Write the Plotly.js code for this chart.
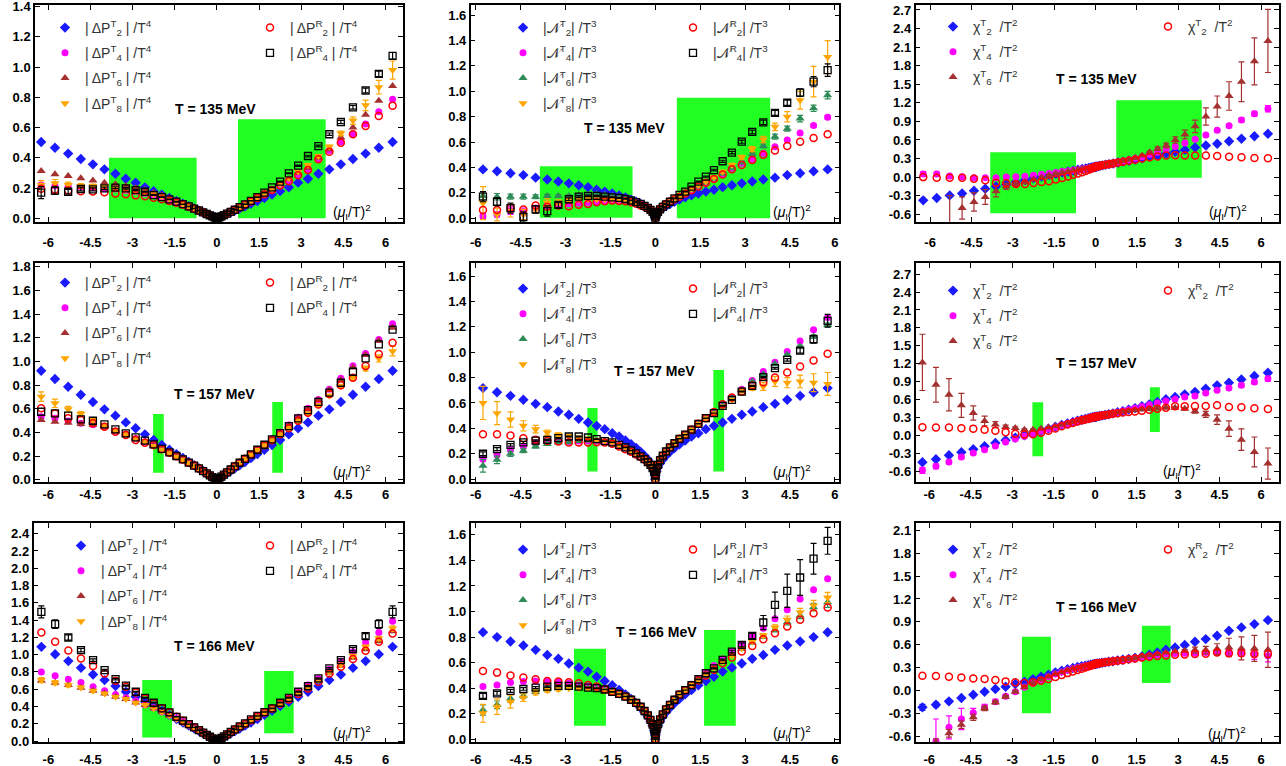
<!DOCTYPE html>
<html><head><meta charset="utf-8">
<script src="https://cdn.plot.ly/plotly-3.0.1.min.js"></script>
<style>html,body{margin:0;padding:0;background:#fff}#chart{width:1286px;height:766px}</style>
</head><body><div id="chart"></div>
<script>
// ---------- x values: (mu_I/T)^2, negative side = imaginary chemical potential ----------
const X25 = [-6.25,-5.76,-5.29,-4.84,-4.41,-4.0,-3.61,-3.24,-2.89,-2.56,-2.25,-1.96,-1.69,-1.44,-1.21,-1.0,-0.81,-0.64,-0.49,-0.36,-0.25,-0.16,-0.09,-0.04,-0.01,0,0.01,0.04,0.09,0.16,0.25,0.36,0.49,0.64,0.81,1.0,1.21,1.44,1.69,1.96,2.25,2.56,2.89,3.24,3.61,4.0,4.41,4.84,5.29,5.76,6.25];
const X24 = [-5.76,-5.29,-4.84,-4.41,-4.0,-3.61,-3.24,-2.89,-2.56,-2.25,-1.96,-1.69,-1.44,-1.21,-1.0,-0.81,-0.64,-0.49,-0.36,-0.25,-0.16,-0.09,-0.04,-0.01,0,0.01,0.04,0.09,0.16,0.25,0.36,0.49,0.64,0.81,1.0,1.21,1.44,1.69,1.96,2.25,2.56,2.89,3.24,3.61,4.0,4.41,4.84,5.29,5.76];

// ---------- T = 135 MeV : |dP|/T^4 ----------
const t135_dP2T = [0.505,0.467,0.428,0.392,0.357,0.324,0.295,0.262,0.236,0.205,0.18,0.157,0.135,0.115,0.097,0.08,0.065,0.051,0.039,0.029,0.02,0.013,0.007,0.003,0.001,0,0.001,0.003,0.007,0.013,0.02,0.029,0.039,0.051,0.065,0.08,0.097,0.115,0.135,0.157,0.18,0.205,0.236,0.262,0.295,0.324,0.357,0.392,0.428,0.467,0.505];
const t135_dP4T = [0.22,0.216,0.214,0.21,0.205,0.196,0.194,0.185,0.176,0.165,0.152,0.138,0.12,0.105,0.09,0.077,0.064,0.051,0.04,0.029,0.02,0.013,0.007,0.003,0.001,0,0.001,0.003,0.007,0.013,0.021,0.031,0.043,0.057,0.073,0.092,0.113,0.137,0.16,0.188,0.22,0.25,0.29,0.324,0.39,0.448,0.507,0.558,0.624,0.705,0.787];
const t135_dP6T = [0.313,0.291,0.28,0.265,0.251,0.236,0.225,0.214,0.2,0.187,0.17,0.152,0.133,0.115,0.098,0.08,0.066,0.052,0.04,0.029,0.02,0.013,0.007,0.003,0.001,0,0.001,0.003,0.007,0.013,0.021,0.031,0.043,0.057,0.073,0.092,0.113,0.138,0.162,0.19,0.223,0.26,0.3,0.335,0.4,0.456,0.534,0.6,0.684,0.778,0.875];
const t135_dP8T = [0.22,0.232,0.22,0.214,0.214,0.21,0.198,0.187,0.176,0.17,0.159,0.145,0.128,0.11,0.094,0.079,0.065,0.052,0.04,0.029,0.02,0.013,0.007,0.003,0.001,0,0.001,0.003,0.007,0.013,0.021,0.031,0.043,0.057,0.073,0.092,0.114,0.139,0.163,0.192,0.225,0.265,0.31,0.353,0.412,0.474,0.562,0.646,0.747,0.867,0.98];
const t135_dP8T_err = [0.03,0.025,0.02,0.015,0.012,0.01,0.008,0.006,0.005,0.004,0.003,0.003,0.002,0.002,0.002,0.001,0.001,0.001,0.001,0.001,0.001,0,0,0,0,0,0,0,0,0,0.001,0.001,0.001,0.001,0.001,0.001,0.002,0.002,0.002,0.003,0.003,0.004,0.005,0.006,0.008,0.01,0.015,0.025,0.035,0.045,0.06];
const t135_dP2R = [0.195,0.19,0.185,0.18,0.178,0.172,0.165,0.159,0.152,0.146,0.137,0.126,0.115,0.103,0.09,0.077,0.064,0.051,0.04,0.029,0.02,0.013,0.007,0.003,0.001,0,0.001,0.003,0.007,0.013,0.021,0.031,0.043,0.057,0.073,0.092,0.112,0.135,0.16,0.187,0.218,0.245,0.285,0.32,0.39,0.441,0.5,0.556,0.611,0.677,0.745];
const t135_dP4R = [0.17,0.183,0.176,0.194,0.192,0.198,0.203,0.198,0.187,0.176,0.154,0.14,0.125,0.11,0.094,0.079,0.065,0.052,0.04,0.029,0.02,0.013,0.007,0.003,0.001,0,0.001,0.003,0.007,0.013,0.021,0.031,0.043,0.057,0.074,0.093,0.116,0.14,0.17,0.205,0.243,0.298,0.348,0.412,0.478,0.556,0.637,0.734,0.845,0.955,1.074];
const t135_dP4R_err = [0.04,0.025,0.015,0.012,0.01,0.008,0.006,0.005,0.004,0.003,0.003,0.002,0.002,0.002,0.001,0.001,0.001,0.001,0.001,0.001,0,0,0,0,0,0,0,0,0,0,0,0.001,0.001,0.001,0.001,0.001,0.001,0.002,0.002,0.002,0.003,0.003,0.004,0.005,0.006,0.008,0.01,0.012,0.015,0.018,0.022];

// ---------- T = 135 MeV : |N|/T^3 ----------
const t135_N2T = [0.385,0.37,0.355,0.34,0.32,0.305,0.29,0.275,0.26,0.245,0.225,0.21,0.195,0.18,0.165,0.147,0.13,0.113,0.097,0.08,0.064,0.048,0.032,0.016,0,0.016,0.032,0.048,0.064,0.08,0.097,0.113,0.13,0.147,0.165,0.18,0.195,0.21,0.225,0.245,0.26,0.275,0.29,0.305,0.32,0.34,0.355,0.37,0.385];
const t135_N4T = [0.018,0.03,0.06,0.05,0.08,0.1,0.11,0.115,0.12,0.125,0.13,0.135,0.14,0.14,0.14,0.135,0.125,0.112,0.097,0.082,0.066,0.05,0.034,0.017,0,0.018,0.037,0.056,0.075,0.094,0.113,0.132,0.15,0.17,0.195,0.22,0.25,0.28,0.31,0.346,0.394,0.433,0.465,0.512,0.564,0.617,0.672,0.73,0.795];
const t135_N4T_err = [0.02,0.02,0.03,0.03,0.02,0.02,0.015,0.01,0.008,0.006,0.005,0.004,0.003,0.003,0.002,0.002,0.002,0.001,0.001,0.001,0.001,0.001,0.001,0.001,0,0.001,0.001,0.001,0.001,0.001,0.001,0.001,0.001,0.001,0.001,0.001,0.001,0.002,0.002,0.003,0.003,0.004,0.005,0.006,0.007,0.008,0.01,0.012,0.015];
const t135_N6T = [0.176,0.17,0.17,0.17,0.17,0.176,0.176,0.176,0.184,0.184,0.19,0.185,0.175,0.165,0.155,0.143,0.13,0.115,0.1,0.083,0.067,0.05,0.034,0.017,0,0.018,0.037,0.056,0.075,0.094,0.113,0.132,0.152,0.172,0.196,0.222,0.25,0.28,0.31,0.35,0.394,0.44,0.506,0.57,0.643,0.706,0.785,0.866,0.97];
const t135_N6T_err = [0.03,0.025,0.02,0.02,0.015,0.012,0.01,0.008,0.006,0.005,0.004,0.003,0.003,0.002,0.002,0.002,0.001,0.001,0.001,0.001,0.001,0.001,0.001,0.001,0,0.001,0.001,0.001,0.001,0.001,0.001,0.001,0.002,0.002,0.002,0.003,0.003,0.004,0.005,0.006,0.008,0.01,0.012,0.015,0.02,0.02,0.025,0.025,0.03];
const t135_N8T = [0.12,0.03,0.06,0.03,0.07,0.125,0.125,0.145,0.15,0.15,0.15,0.15,0.15,0.145,0.14,0.132,0.122,0.11,0.096,0.081,0.066,0.05,0.034,0.017,0,0.018,0.037,0.056,0.075,0.095,0.115,0.135,0.155,0.176,0.2,0.23,0.26,0.29,0.323,0.367,0.42,0.48,0.545,0.62,0.72,0.8,0.93,1.076,1.27];
const t135_N8T_err = [0.13,0.05,0.05,0.04,0.03,0.03,0.02,0.015,0.01,0.01,0.008,0.006,0.005,0.004,0.003,0.003,0.002,0.002,0.002,0.001,0.001,0.001,0.001,0.001,0,0.001,0.001,0.001,0.001,0.001,0.002,0.002,0.002,0.003,0.003,0.004,0.005,0.006,0.008,0.01,0.012,0.015,0.02,0.025,0.03,0.04,0.07,0.12,0.13];
const t135_N2R = [0.066,0.066,0.08,0.07,0.1,0.09,0.1,0.095,0.107,0.113,0.126,0.134,0.14,0.137,0.135,0.127,0.115,0.1,0.09,0.077,0.062,0.047,0.031,0.016,0,0.018,0.037,0.056,0.075,0.094,0.113,0.132,0.15,0.17,0.195,0.22,0.25,0.28,0.31,0.345,0.386,0.42,0.46,0.5,0.533,0.57,0.603,0.632,0.661];
const t135_N4R = [0.17,0.13,0.08,0.01,0.07,0.057,0.105,0.15,0.17,0.176,0.176,0.17,0.165,0.16,0.152,0.14,0.127,0.113,0.098,0.082,0.066,0.05,0.034,0.017,0,0.016,0.033,0.05,0.07,0.09,0.11,0.13,0.157,0.184,0.21,0.25,0.289,0.328,0.38,0.449,0.517,0.603,0.68,0.755,0.83,0.91,0.99,1.076,1.167];
const t135_N4R_err = [0.04,0.03,0.04,0.04,0.03,0.04,0.02,0.01,0.008,0.006,0.005,0.004,0.003,0.003,0.002,0.002,0.002,0.001,0.001,0.001,0.001,0.001,0.001,0.001,0,0.001,0.001,0.001,0.001,0.001,0.001,0.002,0.002,0.002,0.003,0.003,0.004,0.005,0.006,0.008,0.01,0.012,0.015,0.018,0.02,0.02,0.03,0.04,0.05];

// ---------- T = 135 MeV : chi/T^2 ----------
const t135_chi2T = [-0.375,-0.338,-0.295,-0.263,-0.22,-0.188,-0.15,-0.118,-0.08,-0.048,-0.016,0.01,0.035,0.055,0.075,0.09,0.105,0.12,0.13,0.14,0.15,0.155,0.16,0.163,0.165,0.166,0.167,0.17,0.176,0.182,0.19,0.2,0.21,0.22,0.235,0.25,0.265,0.285,0.305,0.33,0.35,0.38,0.41,0.44,0.48,0.51,0.54,0.58,0.62,0.66,0.7];
const t135_chi4T = [0.05,0.05,0.02,0.005,-0.01,-0.01,-0.01,0.0,0.005,0.015,0.03,0.045,0.06,0.075,0.09,0.1,0.11,0.12,0.13,0.14,0.15,0.155,0.16,0.163,0.165,0.166,0.167,0.17,0.176,0.183,0.192,0.203,0.215,0.228,0.243,0.26,0.28,0.305,0.33,0.365,0.402,0.445,0.493,0.552,0.611,0.681,0.756,0.831,0.922,1.024,1.105];
const t135_chi4T_err = [0.04,0.03,0.02,0.015,0.01,0.01,0.008,0.006,0.005,0.004,0.003,0.003,0.002,0.002,0.002,0.001,0.001,0.001,0.001,0.001,0.001,0.001,0.001,0.001,0.001,0.001,0.001,0.001,0.001,0.001,0.001,0.001,0.001,0.001,0.002,0.002,0.002,0.003,0.003,0.004,0.005,0.006,0.008,0.01,0.012,0.015,0.02,0.02,0.03,0.04,0.05];
const t135_chi6T = [-1.6,-1.3,-0.9,-0.5,-0.4,-0.32,-0.23,-0.15,-0.11,-0.08,-0.04,-0.005,0.03,0.055,0.075,0.09,0.105,0.12,0.13,0.14,0.15,0.155,0.16,0.163,0.165,0.166,0.167,0.17,0.176,0.183,0.192,0.203,0.215,0.225,0.24,0.26,0.28,0.31,0.35,0.4,0.46,0.51,0.6,0.69,0.82,0.98,1.14,1.31,1.54,1.87,2.2];
const t135_chi6T_err = [0.6,0.5,0.6,0.18,0.15,0.12,0.09,0.05,0.04,0.03,0.02,0.015,0.01,0.01,0.008,0.006,0.005,0.004,0.003,0.002,0.002,0.001,0.001,0.001,0.001,0.001,0.001,0.001,0.001,0.001,0.002,0.002,0.003,0.004,0.005,0.006,0.008,0.01,0.015,0.02,0.03,0.04,0.05,0.07,0.1,0.14,0.17,0.23,0.32,0.38,0.51];
const t135_chi2R = [0.0,-0.01,-0.01,-0.01,-0.025,-0.05,-0.09,-0.1,-0.11,-0.11,-0.095,-0.08,-0.065,-0.04,-0.015,0.01,0.04,0.06,0.08,0.1,0.12,0.135,0.15,0.16,0.165,0.166,0.167,0.17,0.176,0.182,0.19,0.2,0.21,0.22,0.235,0.25,0.265,0.28,0.3,0.32,0.335,0.35,0.355,0.35,0.35,0.35,0.34,0.33,0.32,0.31,0.305];

// ---------- T = 157 MeV : |dP|/T^4 ----------
const t157_dP2T = [0.922,0.852,0.787,0.72,0.658,0.596,0.543,0.486,0.436,0.385,0.337,0.295,0.255,0.218,0.185,0.152,0.124,0.098,0.076,0.055,0.038,0.024,0.013,0.006,0.0015,0,0.0015,0.006,0.013,0.024,0.038,0.055,0.076,0.098,0.124,0.152,0.185,0.218,0.255,0.295,0.337,0.385,0.436,0.486,0.543,0.596,0.658,0.72,0.787,0.852,0.922];
const t157_dP4T = [0.534,0.52,0.498,0.478,0.467,0.45,0.413,0.385,0.35,0.32,0.29,0.26,0.23,0.2,0.172,0.145,0.12,0.096,0.074,0.054,0.037,0.024,0.013,0.006,0.0015,0,0.002,0.007,0.016,0.028,0.044,0.064,0.088,0.115,0.145,0.18,0.215,0.255,0.3,0.343,0.402,0.464,0.529,0.605,0.68,0.765,0.858,0.965,1.069,1.187,1.32];
const t157_dP6T = [0.506,0.492,0.484,0.472,0.467,0.45,0.41,0.385,0.35,0.32,0.29,0.26,0.23,0.2,0.172,0.145,0.12,0.096,0.074,0.054,0.037,0.024,0.013,0.006,0.0015,0,0.002,0.007,0.016,0.028,0.044,0.064,0.088,0.115,0.145,0.178,0.215,0.255,0.297,0.342,0.4,0.46,0.525,0.6,0.675,0.76,0.844,0.95,1.055,1.175,1.285];
const t157_dP8T = [0.703,0.647,0.596,0.557,0.506,0.464,0.422,0.388,0.352,0.326,0.287,0.255,0.225,0.196,0.17,0.144,0.119,0.095,0.073,0.054,0.037,0.024,0.013,0.006,0.0015,0,0.002,0.007,0.016,0.028,0.044,0.064,0.088,0.114,0.144,0.176,0.212,0.252,0.293,0.335,0.385,0.44,0.5,0.562,0.633,0.711,0.793,0.863,0.942,1.026,1.088];
const t157_dP8T_err = [0.04,0.035,0.025,0.02,0.015,0.01,0.01,0.008,0.006,0.005,0.004,0.003,0.003,0.002,0.002,0.002,0.001,0.001,0.001,0.001,0.001,0,0,0,0,0,0,0,0,0,0.001,0.001,0.001,0.001,0.001,0.002,0.002,0.002,0.003,0.003,0.004,0.005,0.006,0.008,0.01,0.012,0.015,0.02,0.02,0.03,0.04];
const t157_dP2R = [0.605,0.562,0.52,0.506,0.478,0.45,0.408,0.38,0.337,0.315,0.295,0.26,0.23,0.2,0.172,0.146,0.121,0.097,0.075,0.055,0.038,0.024,0.013,0.006,0.0015,0,0.002,0.007,0.016,0.028,0.044,0.064,0.088,0.115,0.145,0.178,0.214,0.253,0.293,0.335,0.385,0.436,0.5,0.568,0.638,0.726,0.8,0.863,0.962,1.063,1.158];
const t157_dP4R = [0.576,0.562,0.543,0.512,0.5,0.47,0.427,0.394,0.36,0.332,0.3,0.262,0.232,0.202,0.173,0.146,0.121,0.097,0.075,0.055,0.038,0.024,0.013,0.006,0.0015,0,0.002,0.007,0.016,0.028,0.044,0.064,0.088,0.115,0.145,0.178,0.215,0.255,0.297,0.342,0.395,0.455,0.52,0.59,0.66,0.737,0.821,0.914,1.026,1.145,1.27];

// ---------- T = 157 MeV : |N|/T^3 ----------
const t157_N2T = [0.717,0.685,0.656,0.625,0.593,0.567,0.533,0.507,0.475,0.446,0.42,0.394,0.362,0.336,0.304,0.275,0.245,0.215,0.185,0.155,0.125,0.094,0.063,0.031,0,0.031,0.063,0.094,0.125,0.155,0.185,0.215,0.245,0.275,0.304,0.336,0.362,0.394,0.42,0.446,0.475,0.507,0.533,0.567,0.593,0.625,0.656,0.685,0.717];
const t157_N4T = [0.157,0.19,0.23,0.257,0.283,0.291,0.302,0.297,0.3,0.3,0.3,0.295,0.285,0.265,0.245,0.222,0.2,0.178,0.157,0.135,0.113,0.088,0.062,0.032,0,0.038,0.076,0.113,0.15,0.185,0.218,0.25,0.283,0.318,0.35,0.39,0.436,0.48,0.525,0.585,0.643,0.709,0.777,0.848,0.921,1.005,1.089,1.176,1.273];
const t157_N6T = [0.105,0.152,0.2,0.223,0.257,0.276,0.289,0.291,0.3,0.305,0.305,0.3,0.29,0.27,0.25,0.226,0.203,0.18,0.158,0.135,0.113,0.088,0.062,0.032,0,0.038,0.076,0.113,0.15,0.185,0.218,0.25,0.283,0.318,0.35,0.39,0.435,0.48,0.522,0.58,0.638,0.703,0.769,0.827,0.906,0.979,1.045,1.123,1.215];
const t157_N6T_err = [0.05,0.03,0.02,0.015,0.01,0.008,0.006,0.005,0.004,0.003,0.003,0.002,0.002,0.002,0.001,0.001,0.001,0.001,0.001,0.001,0.001,0.001,0.001,0.001,0,0.001,0.001,0.001,0.001,0.001,0.001,0.001,0.001,0.001,0.001,0.001,0.001,0.001,0.001,0.002,0.002,0.003,0.004,0.005,0.006,0.008,0.01,0.012,0.015];
const t157_N8T = [0.6,0.52,0.47,0.42,0.394,0.367,0.35,0.34,0.328,0.32,0.31,0.3,0.29,0.27,0.25,0.226,0.203,0.18,0.158,0.135,0.113,0.088,0.062,0.032,0,0.038,0.076,0.113,0.15,0.185,0.218,0.25,0.283,0.318,0.35,0.39,0.435,0.48,0.52,0.572,0.625,0.696,0.72,0.73,0.77,0.76,0.77,0.76,0.75];
const t157_N8T_err = [0.13,0.09,0.06,0.04,0.03,0.02,0.015,0.01,0.008,0.006,0.005,0.004,0.003,0.003,0.002,0.002,0.002,0.001,0.001,0.001,0.001,0.001,0.001,0.001,0,0.001,0.001,0.001,0.001,0.001,0.001,0.002,0.002,0.002,0.003,0.003,0.004,0.005,0.006,0.008,0.01,0.015,0.02,0.03,0.04,0.04,0.05,0.07,0.09];
const t157_N2R = [0.354,0.354,0.344,0.323,0.31,0.302,0.297,0.289,0.289,0.289,0.291,0.289,0.278,0.257,0.236,0.215,0.195,0.175,0.155,0.135,0.113,0.088,0.062,0.032,0,0.038,0.076,0.113,0.15,0.185,0.218,0.25,0.283,0.318,0.35,0.39,0.436,0.48,0.528,0.59,0.643,0.69,0.737,0.764,0.8,0.84,0.887,0.934,0.987];
const t157_N4R = [0.2,0.236,0.27,0.289,0.304,0.31,0.323,0.336,0.336,0.328,0.315,0.3,0.29,0.27,0.25,0.226,0.203,0.18,0.158,0.135,0.113,0.088,0.062,0.032,0,0.038,0.076,0.113,0.15,0.185,0.218,0.25,0.283,0.318,0.35,0.39,0.436,0.48,0.52,0.577,0.625,0.69,0.735,0.803,0.874,0.94,1.013,1.102,1.247];
const t157_N4R_err = [0.015,0.012,0.01,0.008,0.006,0.005,0.004,0.003,0.003,0.002,0.002,0.002,0.001,0.001,0.001,0.001,0.001,0.001,0.001,0.001,0.001,0.001,0.001,0.001,0,0.001,0.001,0.001,0.001,0.001,0.001,0.001,0.001,0.001,0.001,0.001,0.001,0.001,0.001,0.002,0.002,0.003,0.004,0.005,0.007,0.01,0.02,0.03,0.05];

// ---------- T = 157 MeV : chi/T^2 ----------
const t157_chi2T = [-0.445,-0.395,-0.328,-0.278,-0.228,-0.178,-0.122,-0.078,-0.033,0.005,0.045,0.083,0.117,0.15,0.18,0.205,0.228,0.248,0.265,0.278,0.29,0.3,0.306,0.31,0.312,0.313,0.314,0.316,0.321,0.327,0.335,0.345,0.357,0.372,0.39,0.41,0.435,0.46,0.49,0.523,0.562,0.607,0.645,0.69,0.73,0.785,0.84,0.885,0.94,0.996,1.05];
const t157_chi4T = [-0.58,-0.51,-0.44,-0.356,-0.29,-0.234,-0.172,-0.106,-0.056,-0.01,0.033,0.075,0.11,0.145,0.178,0.204,0.227,0.247,0.264,0.277,0.289,0.299,0.305,0.31,0.312,0.313,0.314,0.316,0.321,0.327,0.335,0.345,0.357,0.372,0.39,0.41,0.433,0.457,0.485,0.515,0.545,0.579,0.607,0.645,0.662,0.712,0.757,0.796,0.84,0.896,0.952];
const t157_chi4T_err = [0.05,0.04,0.03,0.03,0.02,0.015,0.012,0.01,0.008,0.006,0.005,0.004,0.003,0.003,0.002,0.002,0.002,0.001,0.001,0.001,0.001,0.001,0.001,0.001,0.001,0.001,0.001,0.001,0.001,0.001,0.001,0.001,0.001,0.001,0.001,0.001,0.002,0.002,0.003,0.003,0.004,0.005,0.006,0.008,0.01,0.012,0.015,0.02,0.03,0.03,0.04];
const t157_chi6T = [1.224,0.851,0.684,0.506,0.378,0.245,0.184,0.145,0.128,0.1,0.1,0.117,0.135,0.155,0.18,0.205,0.228,0.248,0.265,0.278,0.29,0.3,0.306,0.31,0.312,0.313,0.314,0.316,0.321,0.327,0.335,0.345,0.357,0.37,0.385,0.4,0.412,0.425,0.435,0.445,0.455,0.465,0.467,0.45,0.406,0.356,0.267,0.117,-0.067,-0.273,-0.467];
const t157_chi6T_err = [0.47,0.29,0.27,0.2,0.12,0.08,0.05,0.03,0.02,0.015,0.01,0.008,0.006,0.005,0.004,0.003,0.002,0.002,0.002,0.001,0.001,0.001,0.001,0.001,0.001,0.001,0.001,0.001,0.001,0.001,0.001,0.002,0.002,0.002,0.003,0.003,0.004,0.005,0.006,0.008,0.01,0.012,0.015,0.02,0.03,0.05,0.08,0.13,0.18,0.25,0.26];
const t157_chi2R = [0.14,0.134,0.134,0.122,0.117,0.1,0.083,0.056,0.033,0.017,0.022,0.05,0.08,0.12,0.155,0.185,0.21,0.235,0.255,0.27,0.284,0.295,0.303,0.309,0.312,0.313,0.314,0.316,0.321,0.327,0.335,0.345,0.355,0.365,0.375,0.385,0.395,0.405,0.417,0.434,0.45,0.467,0.49,0.49,0.495,0.495,0.506,0.479,0.473,0.456,0.445];

// ---------- T = 166 MeV : |dP|/T^4 ----------
const t166_dP2T = [1.09,1.005,0.925,0.847,0.77,0.705,0.636,0.57,0.512,0.455,0.404,0.35,0.302,0.255,0.215,0.178,0.145,0.115,0.088,0.064,0.045,0.029,0.016,0.007,0.002,0,0.002,0.007,0.016,0.029,0.045,0.064,0.088,0.115,0.145,0.178,0.215,0.255,0.302,0.35,0.404,0.455,0.512,0.57,0.636,0.705,0.77,0.847,0.925,1.005,1.09];
const t166_dP4T = [0.8,0.755,0.716,0.678,0.628,0.582,0.539,0.5,0.462,0.42,0.385,0.34,0.3,0.26,0.222,0.187,0.153,0.122,0.094,0.069,0.048,0.031,0.017,0.0075,0.002,0,0.002,0.008,0.018,0.033,0.052,0.075,0.1,0.13,0.165,0.2,0.24,0.285,0.33,0.375,0.43,0.5,0.57,0.647,0.724,0.832,0.924,1.032,1.14,1.256,1.387];
const t166_dP6T = [0.697,0.674,0.647,0.616,0.582,0.551,0.512,0.485,0.447,0.416,0.38,0.335,0.295,0.255,0.218,0.184,0.151,0.12,0.093,0.068,0.047,0.03,0.017,0.0075,0.002,0,0.002,0.008,0.018,0.033,0.052,0.075,0.1,0.13,0.165,0.2,0.24,0.285,0.33,0.375,0.428,0.49,0.555,0.62,0.697,0.79,0.87,0.963,1.063,1.156,1.27];
const t166_dP8T = [0.705,0.674,0.647,0.62,0.582,0.551,0.512,0.485,0.443,0.416,0.38,0.335,0.295,0.255,0.218,0.184,0.151,0.12,0.093,0.068,0.047,0.03,0.017,0.0075,0.002,0,0.002,0.008,0.018,0.033,0.052,0.075,0.1,0.13,0.165,0.2,0.24,0.285,0.33,0.375,0.43,0.49,0.56,0.628,0.705,0.8,0.886,0.986,1.09,1.186,1.302];
const t166_dP8T_err = [0.03,0.025,0.02,0.015,0.012,0.01,0.008,0.006,0.005,0.004,0.003,0.003,0.002,0.002,0.001,0.001,0.001,0.001,0.001,0.001,0,0,0,0,0,0,0,0,0,0,0,0.001,0.001,0.001,0.001,0.001,0.001,0.002,0.002,0.003,0.003,0.004,0.005,0.006,0.008,0.01,0.012,0.015,0.02,0.025,0.03];
const t166_dP2R = [1.256,1.148,1.048,0.955,0.867,0.782,0.697,0.628,0.562,0.493,0.435,0.378,0.33,0.28,0.235,0.195,0.158,0.125,0.096,0.07,0.049,0.031,0.017,0.0075,0.002,0,0.002,0.008,0.018,0.033,0.052,0.075,0.1,0.13,0.165,0.2,0.24,0.285,0.33,0.375,0.43,0.48,0.545,0.609,0.686,0.782,0.859,0.948,1.044,1.148,1.244];
const t166_dP4R = [1.495,1.352,1.198,1.052,0.936,0.82,0.716,0.64,0.57,0.5,0.443,0.378,0.331,0.28,0.235,0.195,0.158,0.125,0.096,0.07,0.049,0.031,0.017,0.0075,0.002,0,0.002,0.009,0.019,0.035,0.054,0.077,0.105,0.135,0.17,0.205,0.25,0.29,0.335,0.378,0.443,0.5,0.57,0.636,0.724,0.84,0.936,1.063,1.213,1.352,1.495];
const t166_dP4R_err = [0.07,0.05,0.03,0.02,0.015,0.01,0.008,0.006,0.005,0.004,0.003,0.003,0.002,0.002,0.001,0.001,0.001,0.001,0.001,0.001,0,0,0,0,0,0,0,0,0,0,0,0.001,0.001,0.001,0.001,0.001,0.001,0.002,0.002,0.003,0.003,0.004,0.005,0.006,0.008,0.01,0.015,0.02,0.03,0.05,0.07];

// ---------- T = 166 MeV : |N|/T^3 ----------
const t166_N2T = [0.838,0.8,0.765,0.734,0.7,0.66,0.63,0.593,0.561,0.53,0.49,0.457,0.423,0.386,0.352,0.317,0.282,0.247,0.212,0.176,0.141,0.106,0.071,0.035,0,0.035,0.071,0.106,0.141,0.176,0.212,0.247,0.282,0.317,0.352,0.386,0.423,0.457,0.49,0.53,0.561,0.593,0.63,0.66,0.7,0.734,0.765,0.8,0.838];
const t166_N4T = [0.413,0.426,0.444,0.452,0.457,0.452,0.446,0.439,0.426,0.418,0.405,0.39,0.372,0.355,0.335,0.31,0.285,0.255,0.222,0.188,0.152,0.115,0.077,0.039,0,0.04,0.079,0.118,0.157,0.196,0.235,0.27,0.31,0.35,0.385,0.425,0.47,0.517,0.577,0.629,0.687,0.744,0.804,0.869,0.943,1.013,1.097,1.17,1.256];
const t166_N6T = [0.23,0.27,0.32,0.342,0.373,0.392,0.4,0.405,0.405,0.4,0.395,0.385,0.37,0.355,0.335,0.31,0.285,0.255,0.222,0.188,0.152,0.115,0.077,0.039,0,0.04,0.079,0.118,0.157,0.196,0.235,0.27,0.31,0.35,0.385,0.425,0.465,0.51,0.56,0.61,0.66,0.708,0.757,0.804,0.856,0.916,0.969,1.034,1.073];
const t166_N6T_err = [0.04,0.03,0.03,0.02,0.015,0.012,0.01,0.008,0.006,0.005,0.004,0.003,0.003,0.002,0.002,0.002,0.001,0.001,0.001,0.001,0.001,0.001,0.001,0.001,0,0.001,0.001,0.001,0.001,0.001,0.001,0.001,0.001,0.001,0.001,0.002,0.002,0.003,0.004,0.005,0.006,0.008,0.01,0.012,0.015,0.02,0.025,0.03,0.04];
const t166_N8T = [0.204,0.256,0.295,0.326,0.368,0.384,0.392,0.4,0.4,0.4,0.395,0.385,0.37,0.355,0.335,0.31,0.285,0.255,0.222,0.188,0.152,0.115,0.077,0.039,0,0.04,0.079,0.118,0.157,0.196,0.235,0.27,0.31,0.35,0.385,0.425,0.465,0.51,0.56,0.608,0.655,0.713,0.765,0.812,0.875,0.935,0.995,1.047,1.11];
const t166_N8T_err = [0.07,0.06,0.05,0.03,0.02,0.015,0.012,0.01,0.008,0.006,0.005,0.004,0.003,0.003,0.002,0.002,0.002,0.001,0.001,0.001,0.001,0.001,0.001,0.001,0,0.001,0.001,0.001,0.001,0.001,0.001,0.001,0.001,0.001,0.001,0.002,0.002,0.003,0.004,0.005,0.006,0.008,0.01,0.015,0.02,0.03,0.03,0.04,0.04];
const t166_N2R = [0.535,0.522,0.499,0.483,0.47,0.457,0.452,0.446,0.439,0.426,0.413,0.392,0.373,0.355,0.335,0.31,0.285,0.255,0.222,0.188,0.152,0.115,0.077,0.039,0,0.04,0.079,0.118,0.157,0.196,0.235,0.27,0.31,0.35,0.385,0.425,0.46,0.5,0.543,0.595,0.64,0.687,0.731,0.783,0.83,0.883,0.935,0.987,1.031];
const t166_N4R = [0.34,0.36,0.379,0.394,0.405,0.413,0.418,0.418,0.413,0.405,0.4,0.39,0.372,0.355,0.335,0.31,0.285,0.255,0.222,0.188,0.152,0.115,0.077,0.039,0,0.04,0.079,0.118,0.157,0.196,0.235,0.27,0.31,0.35,0.385,0.425,0.47,0.517,0.556,0.621,0.687,0.739,0.809,0.914,1.052,1.162,1.266,1.413,1.553];
const t166_N4R_err = [0.02,0.015,0.012,0.01,0.008,0.006,0.005,0.004,0.003,0.003,0.002,0.002,0.002,0.001,0.001,0.001,0.001,0.001,0.001,0.001,0.001,0.001,0.001,0.001,0,0.001,0.001,0.001,0.001,0.001,0.001,0.001,0.001,0.001,0.001,0.002,0.002,0.003,0.004,0.006,0.01,0.015,0.02,0.055,0.1,0.13,0.14,0.12,0.105];

// ---------- T = 166 MeV : chi/T^2 ----------
const t166_chi2T = [-0.218,-0.183,-0.139,-0.096,-0.052,-0.013,0.022,0.052,0.087,0.118,0.152,0.183,0.209,0.24,0.262,0.282,0.297,0.31,0.32,0.328,0.335,0.341,0.345,0.348,0.35,0.35,0.351,0.353,0.356,0.36,0.365,0.371,0.378,0.386,0.395,0.405,0.416,0.43,0.447,0.47,0.501,0.536,0.566,0.597,0.64,0.675,0.719,0.784,0.828,0.871,0.923];
const t166_chi2T_err = [0.04,0.03,0.02,0.015,0.012,0.01,0.008,0.006,0.005,0.004,0.003,0.003,0.002,0.002,0.002,0.001,0.001,0.001,0.001,0.001,0.001,0.001,0.001,0.001,0.001,0.001,0.001,0.001,0.001,0.001,0.001,0.001,0.001,0.001,0.001,0.001,0.001,0.001,0.001,0.001,0.001,0.001,0.001,0.001,0.001,0.001,0.002,0.002,0.003,0.004,0.005];
const t166_chi4T = [-1.0,-0.66,-0.479,-0.37,-0.29,-0.218,-0.144,-0.074,-0.013,0.044,0.096,0.144,0.183,0.22,0.245,0.27,0.29,0.305,0.317,0.326,0.333,0.34,0.345,0.348,0.35,0.35,0.351,0.353,0.356,0.36,0.365,0.371,0.378,0.386,0.395,0.405,0.415,0.425,0.44,0.455,0.47,0.48,0.487,0.49,0.49,0.5,0.5,0.5,0.5,0.47,0.457];
const t166_chi4T_err = [0.3,0.29,0.15,0.14,0.06,0.04,0.03,0.02,0.015,0.012,0.01,0.008,0.006,0.005,0.004,0.003,0.002,0.002,0.002,0.001,0.001,0.001,0.001,0.001,0.001,0.001,0.001,0.001,0.001,0.001,0.001,0.001,0.001,0.001,0.001,0.001,0.002,0.002,0.003,0.004,0.005,0.006,0.008,0.01,0.015,0.02,0.03,0.04,0.05,0.06,0.08];
const t166_chi6T = [-1.1,-0.68,-0.557,-0.444,-0.348,-0.231,-0.152,-0.078,-0.013,0.044,0.1,0.145,0.185,0.22,0.245,0.27,0.29,0.305,0.317,0.326,0.333,0.34,0.345,0.348,0.35,0.35,0.351,0.353,0.356,0.36,0.365,0.371,0.378,0.386,0.395,0.405,0.415,0.425,0.45,0.465,0.48,0.5,0.514,0.523,0.531,0.531,0.544,0.566,0.553,0.553,0.536];
const t166_chi6T_err = [0.1,0.05,0.05,0.05,0.04,0.03,0.02,0.015,0.012,0.01,0.008,0.006,0.005,0.004,0.003,0.003,0.002,0.002,0.002,0.001,0.001,0.001,0.001,0.001,0.001,0.001,0.001,0.001,0.001,0.001,0.001,0.001,0.001,0.001,0.001,0.001,0.002,0.002,0.003,0.004,0.005,0.007,0.01,0.015,0.04,0.05,0.07,0.12,0.15,0.17,0.23];
const t166_chi2R = [0.196,0.192,0.183,0.174,0.161,0.152,0.139,0.122,0.109,0.1,0.109,0.131,0.152,0.18,0.205,0.23,0.25,0.27,0.288,0.303,0.316,0.327,0.336,0.343,0.348,0.35,0.351,0.353,0.356,0.36,0.365,0.371,0.378,0.386,0.393,0.4,0.41,0.42,0.435,0.445,0.455,0.46,0.47,0.475,0.48,0.485,0.5,0.49,0.49,0.48,0.48];

// ---------- labels ----------
const LBL_dP = ['| ΔP<sup>T</sup><sub>2</sub> | /T<sup>4</sup>','| ΔP<sup>T</sup><sub>4</sub> | /T<sup>4</sup>','| ΔP<sup>T</sup><sub>6</sub> | /T<sup>4</sup>','| ΔP<sup>T</sup><sub>8</sub> | /T<sup>4</sup>','| ΔP<sup>R</sup><sub>2</sub> | /T<sup>4</sup>','| ΔP<sup>R</sup><sub>4</sub> | /T<sup>4</sup>'];
const LBL_N = ['|𝒩<sup>T</sup><sub>2</sub>| /T<sup>3</sup>','|𝒩<sup>T</sup><sub>4</sub>| /T<sup>3</sup>','|𝒩<sup>T</sup><sub>6</sub>| /T<sup>3</sup>','|𝒩<sup>T</sup><sub>8</sub>| /T<sup>3</sup>','|𝒩<sup>R</sup><sub>2</sub>| /T<sup>3</sup>','|𝒩<sup>R</sup><sub>4</sub>| /T<sup>3</sup>'];
const LBL_chi135 = ['χ<sup>T</sup><sub>2</sub>  /T<sup>2</sup>','χ<sup>T</sup><sub>4</sub>  /T<sup>2</sup>','χ<sup>T</sup><sub>6</sub>  /T<sup>2</sup>','χ<sup>T</sup><sub>2</sub>  /T<sup>2</sup>'];
const LBL_chi = ['χ<sup>T</sup><sub>2</sub>  /T<sup>2</sup>','χ<sup>T</sup><sub>4</sub>  /T<sup>2</sup>','χ<sup>T</sup><sub>6</sub>  /T<sup>2</sup>','χ<sup>R</sup><sub>2</sub>  /T<sup>2</sup>'];
const TEMPS = ['T = 135 MeV','T = 157 MeV','T = 166 MeV'];
const XTICKS = [-6,-4.5,-3,-1.5,0,1.5,3,4.5,6];
const XTICKTEXT = ['-6','-4.5','-3','-1.5','0','1.5','3','4.5','6'];
const YT_14 = [0,0.2,0.4,0.6,0.8,1.0,1.2,1.4];
const YT_16 = [0,0.2,0.4,0.6,0.8,1.0,1.2,1.4,1.6];
const YT_18 = [0,0.2,0.4,0.6,0.8,1.0,1.2,1.4,1.6,1.8];
const YT_24 = [0,0.2,0.4,0.6,0.8,1.0,1.2,1.4,1.6,1.8,2.0,2.2,2.4];
const YT_27 = [-0.6,-0.3,0,0.3,0.6,0.9,1.2,1.5,1.8,2.1,2.4,2.7];
const YT_21 = [-0.6,-0.3,0,0.3,0.6,0.9,1.2,1.5,1.8,2.1];
// highlighted fit windows: [x0, x1, y0, y1]
const BANDS = [
  [[-3.84,-0.72,0,0.40],[0.75,3.87,0,0.655]],
  [[-3.86,-0.76,0.005,0.41],[0.72,3.84,0,0.95]],
  [[-3.82,-0.71,-0.585,0.40],[0.75,3.85,-0.01,1.24]],
  [[-2.27,-1.89,0.06,0.557],[1.97,2.35,0.06,0.658]],
  [[-2.27,-1.93,0.06,0.56],[1.94,2.30,0.06,0.86]],
  [[-2.27,-1.88,-0.345,0.556],[1.98,2.34,0.06,0.807]],
  [[-2.66,-1.60,0.04,0.705],[1.68,2.73,0.09,0.81]],
  [[-2.72,-1.65,0.107,0.708],[1.63,2.69,0.107,0.856]],
  [[-2.65,-1.60,-0.296,0.706],[1.69,2.73,0.10,0.85]]
];

// ---------- styles ----------
const ST = {
  blue:   {symbol:'diamond', color:'#1a1aff', size:8},
  mag:    {symbol:'circle', color:'#ff00ff', size:7},
  brown:  {symbol:'triangle-up', color:'#a53030', size:8},
  green:  {symbol:'triangle-up', color:'#2e8b57', size:8},
  orange: {symbol:'triangle-down', color:'#ffa500', size:8},
  red:    {symbol:'circle-open', color:'#ff0000', size:7, lw:1.5},
  black:  {symbol:'square-open', color:'#000000', size:7, lw:1.3}
};

// panel definitions (row-major)
const PANELS = [
  {x:X25, xr:[-6.47,6.61], yr:[-0.022,1.41], yt:YT_14, lbl:LBL_dP, st:['blue','mag','brown','orange','red','black'],
   s:[[t135_dP2T,null],[t135_dP4T,null],[t135_dP6T,null],[t135_dP8T,t135_dP8T_err],[t135_dP2R,null],[t135_dP4R,t135_dP4R_err]],
   nL:4, leg:[[45,24],[250,24]], tpos:[215,109], xl:[373,212]},
  {x:X24, xr:[-6.17,6.15], yr:[-0.027,1.68], yt:YT_16, lbl:LBL_N, st:['blue','mag','green','orange','red','black'],
   s:[[t135_N2T,null],[t135_N4T,t135_N4T_err],[t135_N6T,t135_N6T_err],[t135_N8T,t135_N8T_err],[t135_N2R,null],[t135_N4R,t135_N4R_err]],
   nL:4, leg:[[503,24],[673,24]], tpos:[624,128], xl:[813,212]},
  {x:X25, xr:[-6.53,6.64], yr:[-0.72,2.78], yt:YT_27, lbl:LBL_chi135, st:['blue','mag','brown','red'],
   s:[[t135_chi2T,null],[t135_chi4T,t135_chi4T_err],[t135_chi6T,t135_chi6T_err],[t135_chi2R,null]],
   nL:3, leg:[[933,23],[1148,23]], tpos:[1096,79], xl:[1249,212]},
  {x:X25, xr:[-6.47,6.61], yr:[-0.015,1.83], yt:YT_18, lbl:LBL_dP, st:['blue','mag','brown','orange','red','black'],
   s:[[t157_dP2T,null],[t157_dP4T,null],[t157_dP6T,null],[t157_dP8T,t157_dP8T_err],[t157_dP2R,null],[t157_dP4R,null]],
   nL:4, leg:[[45,279],[250,279]], tpos:[214,394], xl:[373,472]},
  {x:X24, xr:[-6.17,6.15], yr:[-0.02,1.70], yt:YT_16, lbl:LBL_N, st:['blue','mag','green','orange','red','black'],
   s:[[t157_N2T,null],[t157_N4T,null],[t157_N6T,t157_N6T_err],[t157_N8T,t157_N8T_err],[t157_N2R,null],[t157_N4R,t157_N4R_err]],
   nL:4, leg:[[503,285],[673,285]], tpos:[654,371], xl:[813,472]},
  {x:X25, xr:[-6.5,6.64], yr:[-0.77,2.88], yt:YT_27, lbl:LBL_chi, st:['blue','mag','brown','red'],
   s:[[t157_chi2T,null],[t157_chi4T,t157_chi4T_err],[t157_chi6T,t157_chi6T_err],[t157_chi2R,null]],
   nL:3, leg:[[933,287],[1148,287]], tpos:[1096,363], xl:[1203,471]},
  {x:X25, xr:[-6.53,6.61], yr:[-0.015,2.52], yt:YT_24, lbl:LBL_dP, st:['blue','mag','brown','orange','red','black'],
   s:[[t166_dP2T,null],[t166_dP4T,null],[t166_dP6T,null],[t166_dP8T,t166_dP8T_err],[t166_dP2R,null],[t166_dP4R,t166_dP4R_err]],
   nL:4, leg:[[61,542],[250,542]], tpos:[214,646], xl:[373,733]},
  {x:X24, xr:[-6.17,6.15], yr:[-0.023,1.69], yt:YT_16, lbl:LBL_N, st:['blue','mag','green','orange','red','black'],
   s:[[t166_N2T,null],[t166_N4T,null],[t166_N6T,t166_N6T_err],[t166_N8T,t166_N8T_err],[t166_N2R,null],[t166_N4R,t166_N4R_err]],
   nL:4, leg:[[503,546],[673,546]], tpos:[656,632], xl:[813,733]},
  {x:X25, xr:[-6.5,6.64], yr:[-0.675,2.19], yt:YT_21, lbl:LBL_chi, st:['blue','mag','brown','red'],
   s:[[t166_chi2T,t166_chi2T_err],[t166_chi4T,t166_chi4T_err],[t166_chi6T,t166_chi6T_err],[t166_chi2R,null]],
   nL:3, leg:[[933,546],[1148,546]], tpos:[1096,607], xl:[1248,734]}
];

const W = 1286, H = 766;
const COLX = [[35,402.7],[470.7,839.3],[915.5,1278.7]];
const ROWY = [[5,221.7],[263.3,481.7],[523.3,742.3]];
const STANDOFF = [8, 0, 4];

// sanity check on array lengths
PANELS.forEach((p,i)=>p.s.forEach((s,j)=>{
  if (s[0].length !== p.x.length) throw new Error('panel '+(i+1)+' series '+(j+1)+' len '+s[0].length+' vs '+p.x.length);
  if (s[1] && s[1].length !== p.x.length) throw new Error('panel '+(i+1)+' err '+(j+1)+' len '+s[1].length);
}));

const traces = [], layout = {
  width:W, height:H, margin:{l:0,r:0,t:0,b:0}, paper_bgcolor:'#fff', plot_bgcolor:'#fff',
  showlegend:true, shapes:[], annotations:[], hovermode:'closest'
};
const FONT = 'Liberation Sans, Arial, Helvetica, sans-serif';

PANELS.forEach((p, i) => {
  const r = Math.floor(i/3), c = i%3, n = i+1;
  const xs = n===1 ? '' : String(n);
  const xa = 'x'+xs, ya = 'y'+xs;
  const cx = COLX[c].slice(); if (r===2 && c===0) cx[0] = 33.5;
  const ry = ROWY[r];
  const axBase = {showline:true, linecolor:'#000', linewidth:1.5, mirror:'allticks', ticks:'inside', ticklen:5,
    tickwidth:1, tickcolor:'#000', showgrid:false, zeroline:false, fixedrange:true, ticklabeloverflow:'allow',
    tickfont:{family:FONT, size:13, color:'#000', weight:'bold'}};
  layout['xaxis'+xs] = Object.assign({}, axBase, {domain:[cx[0]/W, cx[1]/W], range:p.xr, anchor:ya,
    tickmode:'array', tickvals:XTICKS, ticktext:XTICKTEXT, ticklabelstandoff:STANDOFF[r]});
  layout['yaxis'+xs] = Object.assign({}, axBase, {domain:[1-ry[1]/H, 1-ry[0]/H], range:p.yr, anchor:xa,
    tickmode:'array', tickvals:p.yt, ticktext:p.yt.map(v=>v.toFixed(1))});
  const legL = n===1 ? 'legend' : 'legend'+(2*n-1);
  const legR = 'legend'+(2*n);
  [[legL,p.leg[0]],[legR,p.leg[1]]].forEach(([id,pos]) => {
    layout[id] = {x:pos[0]/W, y:1-(pos[1]-12)/H, xanchor:'left', yanchor:'top', xref:'paper', yref:'paper',
      bgcolor:'rgba(0,0,0,0)', borderwidth:0, tracegroupgap:4, itemclick:false, itemdoubleclick:false,
      font:{family:FONT, size:14, color:'#333'}};
  });
  p.s.forEach((s, j) => {
    const st = ST[p.st[j]];
    const t = {type:'scatter', mode:'markers', x:p.x, y:s[0], xaxis:xa, yaxis:ya,
      name:p.lbl[j], legend: j < p.nL ? legL : legR, legendgroup:'p'+n+'_'+j, showlegend:true,
      marker:{symbol:st.symbol, color:st.color, size:st.size, line:{width:st.lw||0, color:st.color}},
      hoverinfo:'x+y+name'};
    if (s[1]) t.error_y = {type:'data', array:s[1], visible:true, color:st.color, thickness:1.2, width:3};
    traces.push(t);
  });
  BANDS[i].forEach(b => layout.shapes.push({type:'rect', xref:xa, yref:ya, x0:b[0], x1:b[1], y0:b[2], y1:b[3],
    fillcolor:'#22ff22', line:{width:0}, layer:'below'}));
  layout.annotations.push({xref:'paper', yref:'paper', x:p.tpos[0]/W, y:1-p.tpos[1]/H, xanchor:'center', yanchor:'middle',
    text:'<b>'+TEMPS[r]+'</b>', showarrow:false, font:{family:FONT, size:14, color:'#000'}});
  layout.annotations.push({xref:'paper', yref:'paper', x:p.xl[0]/W, y:1-p.xl[1]/H, xanchor:'right', yanchor:'middle',
    text:'(<i>μ</i><sub>I</sub>/T)<sup>2</sup>', showarrow:false, font:{family:FONT, size:14, color:'#000'}});
});

Plotly.newPlot('chart', traces, layout, {displayModeBar:false, responsive:false});
</script></body></html>
